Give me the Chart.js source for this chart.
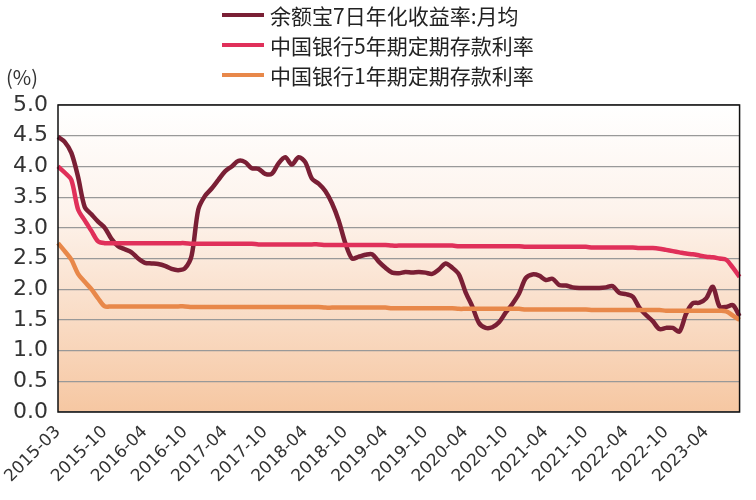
<!DOCTYPE html>
<html>
<head>
<meta charset="utf-8">
<script src="https://cdn.jsdelivr.net/npm/chart.js@4/dist/chart.umd.min.js"></script>
<style>
  body { margin: 0; background: #fff; font-family: "Noto Sans CJK SC", "DejaVu Sans", sans-serif; }
  #wrap { position: relative; width: 756px; height: 500px; }
  #legend { position: absolute; left: 222px; top: 0; font-size: 21px; color: #222; line-height: 30px; }
  #legend div { display: flex; align-items: center; }
  #legend span.sw { display: inline-block; width: 42px; height: 4px; margin-right: 6px; }
  #unit { position: absolute; left: 6px; top: 62px; font-size: 20px; color: #333; }
</style>
</head>
<body>
<div id="wrap">
  <canvas id="myChart" width="756" height="500"></canvas>
  <div id="legend">
    <div><span class="sw" style="background:#7a1f35"></span>余额宝7日年化收益率:月均</div>
    <div><span class="sw" style="background:#e0305a"></span>中国银行5年期定期存款利率</div>
    <div><span class="sw" style="background:#e8884a"></span>中国银行1年期定期存款利率</div>
  </div>
  <div id="unit">(%)</div>
</div>
<script>
// tick labels shown on the x axis
var tickLabels = ['2015-03','2015-10','2016-04','2016-10','2017-04','2017-10','2018-04','2018-10',
  '2019-04','2019-10','2020-04','2020-10','2021-04','2021-10','2022-04','2022-10','2023-04'];

// monthly categories 2015-03 .. 2023-09
var months = [];
for (var y = 2015; y <= 2023; y++) {
  for (var m = 1; m <= 12; m++) {
    if (y == 2015 && m < 3) continue;
    if (y == 2023 && m > 9) continue;
    months.push(y + '-' + (m < 10 ? '0' + m : m));
  }
}

// 余额宝7日年化收益率 monthly average
var yuebao = [4.48,4.40,4.22,3.83,3.34,3.22,3.10,3.00,2.82,2.70,2.65,2.60,2.50,2.43,2.42,2.41,2.38,2.33,2.31,2.34,
  2.55,3.30,3.52,3.64,3.78,3.92,4.00,4.09,4.07,3.97,3.96,3.88,3.88,4.05,4.15,4.03,4.15,4.07,3.80,3.72,
  3.60,3.40,3.12,2.75,2.50,2.53,2.56,2.57,2.45,2.35,2.27,2.26,2.28,2.27,2.28,2.27,2.25,2.32,2.42,2.35,
  2.24,1.95,1.72,1.45,1.37,1.38,1.46,1.62,1.76,1.93,2.18,2.24,2.22,2.15,2.17,2.07,2.06,2.03,2.02,2.02,
  2.02,2.02,2.03,2.05,1.94,1.92,1.88,1.70,1.58,1.48,1.35,1.37,1.37,1.31,1.60,1.77,1.78,1.85,2.04,1.72,
  1.71,1.74,1.56];

// 中国银行5年期定期存款利率
var rate5y = [4.00,3.90,3.78,3.30,3.12,2.95,2.78,2.75,2.75,2.75,2.75,2.75,2.75,2.75,2.75,2.75,2.75,2.75,2.75,2.75,
  2.74,2.74,2.74,2.74,2.74,2.74,2.74,2.74,2.74,2.74,2.73,2.73,2.73,2.73,2.73,2.73,2.73,2.73,2.73,2.73,
  2.72,2.72,2.72,2.72,2.72,2.72,2.72,2.72,2.72,2.72,2.71,2.71,2.71,2.71,2.71,2.71,2.71,2.71,2.71,2.71,
  2.70,2.70,2.70,2.70,2.70,2.70,2.70,2.70,2.70,2.70,2.69,2.69,2.69,2.69,2.69,2.69,2.69,2.69,2.69,2.69,
  2.68,2.68,2.68,2.68,2.68,2.68,2.68,2.67,2.67,2.67,2.66,2.64,2.62,2.60,2.58,2.57,2.55,2.53,2.52,2.50,
  2.48,2.35,2.20];

// 中国银行1年期定期存款利率
var rate1y = [2.75,2.62,2.48,2.25,2.12,2.00,1.85,1.72,1.72,1.72,1.72,1.72,1.72,1.72,1.72,1.72,1.72,1.72,1.72,1.72,
  1.71,1.71,1.71,1.71,1.71,1.71,1.71,1.71,1.71,1.71,1.71,1.71,1.71,1.71,1.71,1.71,1.71,1.71,1.71,1.71,
  1.70,1.70,1.70,1.70,1.70,1.70,1.70,1.70,1.70,1.70,1.69,1.69,1.69,1.69,1.69,1.69,1.69,1.69,1.69,1.69,
  1.68,1.68,1.68,1.68,1.68,1.68,1.68,1.68,1.68,1.68,1.67,1.67,1.67,1.67,1.67,1.67,1.67,1.67,1.67,1.67,
  1.66,1.66,1.66,1.66,1.66,1.66,1.66,1.66,1.66,1.66,1.66,1.65,1.65,1.65,1.65,1.65,1.65,1.65,1.65,1.65,
  1.64,1.57,1.50];

var bgPlugin = {
  id: 'bg',
  beforeDraw: function(chart) {
    var a = chart.chartArea, ctx = chart.ctx;
    var g = ctx.createLinearGradient(0, a.top, 0, a.bottom);
    g.addColorStop(0, '#ffffff');
    g.addColorStop(0.35, '#fdf3ec');
    g.addColorStop(1, '#f6c7a2');
    ctx.save();
    ctx.fillStyle = g;
    ctx.fillRect(a.left, a.top, a.right - a.left, a.bottom - a.top);
    ctx.restore();
  },
  afterDraw: function(chart) {
    var a = chart.chartArea, ctx = chart.ctx;
    ctx.save();
    ctx.strokeStyle = '#111';
    ctx.lineWidth = 1.5;
    ctx.strokeRect(a.left, a.top, a.right - a.left, a.bottom - a.top);
    ctx.restore();
  }
};

function line(label, data, color) {
  return { label: label, data: data, borderColor: color, borderWidth: 4.5,
    pointRadius: 0, tension: 0.3, fill: false };
}

var ctx = document.getElementById('myChart').getContext('2d');
var chart = new Chart(ctx, {
  type: 'line',
  data: {
    labels: months,
    datasets: [
      line('中国银行1年期定期存款利率', rate1y, '#e8884a'),
      line('中国银行5年期定期存款利率', rate5y, '#e0305a'),
      line('余额宝7日年化收益率:月均', yuebao, '#7a1f35')
    ]
  },
  options: {
    responsive: false,
    animation: false,
    layout: { padding: { top: 105, right: -14, left: 0, bottom: 0 } },
    plugins: { legend: { display: false }, tooltip: { enabled: false } },
    scales: {
      x: {
        offset: false,
        grid: { display: false },
        border: { display: false },
        afterFit: function(s) { s.height = 88; },
        ticks: {
          autoSkip: false, minRotation: 45, maxRotation: 45,
          color: '#333', font: { size: 17, family: 'DejaVu Sans' }, padding: 2,
          callback: function(v) {
            var l = this.getLabelForValue(v);
            return tickLabels.indexOf(l) >= 0 ? l : '';
          }
        }
      },
      y: {
        min: 0, max: 5,
        afterFit: function(s) { s.width = 58; },
        border: { display: false },
        grid: { color: '#999', lineWidth: 1.2, drawTicks: false },
        ticks: {
          stepSize: 0.5, color: '#333', padding: 10,
          font: { size: 22, family: 'DejaVu Sans' },
          callback: function(v) { return v.toFixed(1); }
        }
      }
    }
  },
  plugins: [bgPlugin]
});
</script>
</body>
</html>
